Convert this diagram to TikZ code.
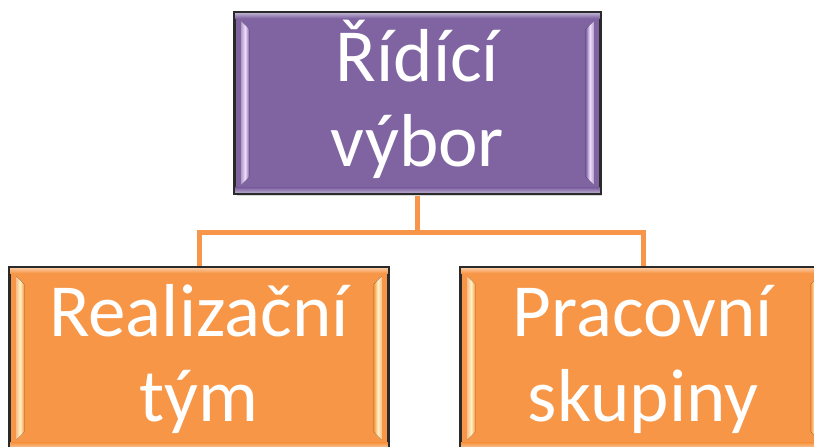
\documentclass[tikz,border=0pt]{standalone}
\usepackage{fontspec}
\setmainfont{Carlito}
\usetikzlibrary{backgrounds,calc}
\definecolor{purp}{HTML}{8064A2}
\definecolor{orng}{HTML}{F79646}
\definecolor{conn}{HTML}{F7964A}
\definecolor{edge}{HTML}{2A2A2A}
\definecolor{purphi}{HTML}{F0DDFF}
\definecolor{orngi}{HTML}{FFF3C0}
\newcommand{\bevelbox}[3]{%
  % #1 node name, #2 colour, #3 highlight colour
  \path (#1.north west) coordinate (bw) (#1.south east) coordinate (be)
        (#1.north east) coordinate (bne) (#1.south west) coordinate (bsw);
  \fill[top color=#2!55!white, bottom color=#2]
    ($(bw)+(1,1)$) rectangle ($(bne)+(-1,6)$);
  \fill[bottom color=#2!55!white, top color=#2]
    ($(bsw)+(1,-6)$) rectangle ($(be)+(-1,-1)$);
  \fill[left color=#2!60!white, right color=#2, middle color=#3]
    ($(bw)+(7,9)$) -- ($(bw)+(15,17)$) -- ($(bsw)+(15,-17)$) -- ($(bsw)+(7,-9)$) -- cycle;
  \fill[right color=#2!60!white, left color=#2, middle color=#3]
    ($(bne)+(-7,9)$) -- ($(bne)+(-15,17)$) -- ($(be)+(-15,-17)$) -- ($(be)+(-7,-9)$) -- cycle;
  \draw[edge, line width=1.6] (bw) rectangle (be);
}
\begin{document}
\begin{tikzpicture}[x=1pt,y=-1pt,
  boxstyle/.style={rectangle, draw=edge, line width=1.6, inner sep=0pt},
  labelstyle/.style={text=white, align=center, font=\fontsize{75}{85}\selectfont, inner sep=0pt},
  connstyle/.style={conn, line width=5}]
\useasboundingbox (0,0) rectangle (814,447);
\clip (0,0) rectangle (814,447);
% shadows
\fill[black!15] (237,15) rectangle (602,196);
\fill[black!15] (12,270) rectangle (390,460);
\fill[black!15] (463,270) rectangle (827,460);
\node[boxstyle, fill=purp, minimum width=365, minimum height=180] (top) at (417.5,103) {};
\node[boxstyle, fill=orng, minimum width=378, minimum height=180] (left) at (199,358) {};
\node[boxstyle, fill=orng, minimum width=364, minimum height=180] (right) at (643,358) {};
\bevelbox{top}{purp}{purphi}
\bevelbox{left}{orng}{orngi}
\bevelbox{right}{orng}{orngi}
\node[labelstyle] (toplabel) at ([yshift=4]top.center) {Řídící\\výbor};
\node[labelstyle] (leftlabel) at ([yshift=-1]left.center) {Realizační\\tým};
\node[labelstyle] (rightlabel) at ([yshift=-1]right.center) {Pracovní\\skupiny};
\begin{scope}[on background layer]
\coordinate (mid) at (417.5,232);
\draw[connstyle] (top.south) -- (mid) -| (left.north);
\draw[connstyle] (mid) -| (right.north);
\end{scope}
\end{tikzpicture}
\end{document}
